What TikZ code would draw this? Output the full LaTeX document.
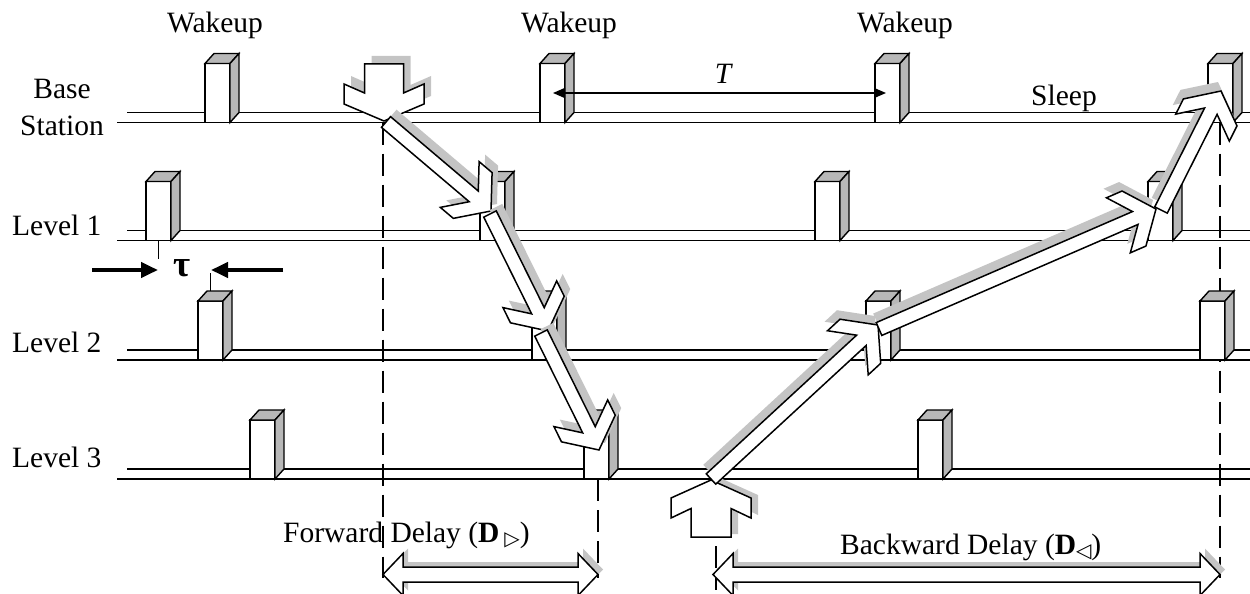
\documentclass[tikz,border=0pt]{standalone}
\usepackage{fontspec}
\setmainfont{Liberation Serif}
\newfontfamily\symfont{DejaVu Sans}
\usetikzlibrary{calc,arrows.meta}
\definecolor{boxgray}{gray}{0.72}
\definecolor{shadowgray}{gray}{0.77}
\tikzset{
  every node/.style={inner sep=0pt, font=\fontsize{29.5pt}{34pt}\selectfont},
  tline/.style={line width=1.5pt},
  boxline/.style={line width=1.4pt, line join=miter},
  arrowline/.style={draw=black, fill=white, line width=1.5pt, line join=miter},
  vdash/.style={line width=1.4pt, dash pattern=on 22pt off 9pt},
  tauarrow/.style={line width=4pt, -{Triangle[length=17pt,width=15pt]}},
  period/.style={line width=1.5pt, {Triangle[length=12pt,width=10pt]}-{Triangle[length=12pt,width=10pt]}},
}
% 3D wakeup box: #1 = front left x, #2 = bottom y
\newcommand\wbox[2]{%
  \filldraw[boxline, fill=white] (#1,#2) rectangle (#1+25,#2-59);
  \filldraw[boxline, fill=boxgray] (#1,#2-59) -- (#1+9,#2-69) -- (#1+34,#2-69) -- (#1+25,#2-59) -- cycle;
  \filldraw[boxline, fill=boxgray] (#1+25,#2-59) -- (#1+34,#2-69) -- (#1+34,#2-10) -- (#1+25,#2) -- cycle;
}
% block arrow with chevron head: #1 tail, #2 tip, #3 half shaft, #4 half head,
% #5 outer wing distance, #6 back wing distance, #7 neck distance, #8 shadow shift
\newcommand\blockarrow[8]{%
  \coordinate (ba-c1) at ($(#2)!#5!(#1)$);
  \coordinate (ba-c2) at ($(#2)!#6!(#1)$);
  \coordinate (ba-c3) at ($(#2)!#7!(#1)$);
  \coordinate (ba-o1) at ($(ba-c1)!#4!90:(#2)$);
  \coordinate (ba-o2) at ($(ba-c1)!#4!-90:(#2)$);
  \coordinate (ba-b1) at ($(ba-c2)!#4!90:(#2)$);
  \coordinate (ba-b2) at ($(ba-c2)!#4!-90:(#2)$);
  \coordinate (ba-n1) at ($(ba-c3)!#3!90:(#2)$);
  \coordinate (ba-n2) at ($(ba-c3)!#3!-90:(#2)$);
  \coordinate (ba-t1) at ($(#1)!#3!90:(#2)$);
  \coordinate (ba-t2) at ($(#1)!#3!-90:(#2)$);
  \begin{scope}[transform canvas={shift={#8}}]
    \fill[shadowgray] (#2) -- (ba-o1) -- (ba-b1) -- (ba-n1) -- (ba-t1) -- (ba-t2) -- (ba-n2) -- (ba-b2) -- (ba-o2) -- cycle;
  \end{scope}
  \draw[arrowline] (#2) -- (ba-o1) -- (ba-b1) -- (ba-n1) -- (ba-t1) -- (ba-t2) -- (ba-n2) -- (ba-b2) -- (ba-o2) -- cycle;
}
\newcommand\diagarrow[3]{\blockarrow{#1}{#2}{7pt}{30pt}{24pt}{41pt}{22.6pt}{#3}}
% double headed hollow arrow between #1 (left tip) and #2 (right tip)
\newcommand\dblarrow[3]{%
  \begin{scope}[transform canvas={shift={#3}}]
    \fill[shadowgray] (#1) -- ($(#1)+(20,-21)$) -- ($(#1)+(20,-7.5)$) -- ($(#2)+(-20,-7.5)$) -- ($(#2)+(-20,-21)$) -- (#2)
      -- ($(#2)+(-20,21)$) -- ($(#2)+(-20,7.5)$) -- ($(#1)+(20,7.5)$) -- ($(#1)+(20,21)$) -- cycle;
  \end{scope}
  \draw[arrowline] (#1) -- ($(#1)+(20,-21)$) -- ($(#1)+(20,-7.5)$) -- ($(#2)+(-20,-7.5)$) -- ($(#2)+(-20,-21)$) -- (#2)
      -- ($(#2)+(-20,21)$) -- ($(#2)+(-20,7.5)$) -- ($(#1)+(20,7.5)$) -- ($(#1)+(20,21)$) -- cycle;
}
\newcommand\tri[1]{\raisebox{-3pt}{\symfont\fontsize{20pt}{20pt}\selectfont #1}}
\begin{document}
\begin{tikzpicture}[x=1pt,y=-1pt]
\useasboundingbox (0,0) rectangle (1250,594);

% timelines (double lines)
\foreach \y in {122.5,240.5,360,479} {
  \draw[tline] (117,\y) -- (1250,\y);
  \draw[tline] (127,\y-10) -- (1250,\y-10);
}

% tau markers
\coordinate (tk1a) at (158.5,240.5);
\coordinate (tk1b) at (158.5,259);
\coordinate (tk2a) at (210.5,273);
\coordinate (tk2b) at (210.5,300);
\draw[line width=1.4pt] (tk1a) -- (tk1b);
\draw[line width=1.4pt] (tk2a) -- (tk2b);
\coordinate (taL0) at (92,270);
\coordinate (taL1) at (158,270);
\coordinate (taR0) at (283,270);
\coordinate (taR1) at (211,270);
\draw[tauarrow] (taL0) -- (taL1);
\draw[tauarrow] (taR0) -- (taR1);
\node[font=\fontsize{37pt}{40pt}\selectfont\bfseries] (tau) at (182,268) {τ};

% dashed guide lines
\coordinate (d1a) at (383,122.5);  \coordinate (d1b) at (383,578);
\coordinate (d2a) at (598,479);    \coordinate (d2b) at (598,578);
\coordinate (d3a) at (1220,122.5); \coordinate (d3b) at (1220,578);
\coordinate (d4a) at (716,546);    \coordinate (d4b) at (716,590);
\draw[vdash] (d1a) -- (d1b);
\draw[vdash] (d2a) -- (d2b);
\draw[vdash] (d3a) -- (d3b);
\draw[vdash] (d4a) -- (d4b);

% wakeup boxes
\foreach \x in {205,540,875,1208} {\wbox{\x}{122.5}}
\foreach \x in {146,480,815,1148} {\wbox{\x}{240.5}}
\foreach \x in {198,532,866,1200} {\wbox{\x}{360}}
\foreach \x in {250,584,918} {\wbox{\x}{479}}

% period T
\coordinate (Tl) at (553,93);
\coordinate (Tr) at (886,93);
\draw[period] (Tl) -- (Tr);
\node[anchor=base, font=\fontsize{29.5pt}{34pt}\selectfont\itshape] (Tlab) at (723,83) {T};

% labels
\node[anchor=base] (wk1) at (215,33) {Wakeup};
\node[anchor=base] (wk2) at (569,33) {Wakeup};
\node[anchor=base] (wk3) at (905,33) {Wakeup};
\node[anchor=base] (bs1) at (62,98) {Base};
\node[anchor=base] (bs2) at (62,135) {Station};
\node[anchor=base west] (lv1) at (12,235) {Level 1};
\node[anchor=base west] (lv2) at (12,352) {Level 2};
\node[anchor=base west] (lv3) at (12,467) {Level 3};
\node[anchor=base] (sleep) at (1064,105) {Sleep};

% forward path
\coordinate (dnT) at (384,64);   \coordinate (dnH) at (384,121);
\coordinate (f1a) at (386,122);  \coordinate (f1b) at (491,211);
\coordinate (f2a) at (490,214);  \coordinate (f2b) at (548,331);
\coordinate (f3a) at (541,333);  \coordinate (f3b) at (599,450);
\blockarrow{dnT}{dnH}{19.5pt}{40pt}{17pt}{37pt}{28pt}{(7pt,8pt)}
\diagarrow{f1a}{f1b}{(6pt,7pt)}
\diagarrow{f2a}{f2b}{(6pt,7pt)}
\diagarrow{f3a}{f3b}{(6pt,7pt)}

% backward path
\coordinate (upT) at (711,537);  \coordinate (upH) at (711,480);
\coordinate (b1a) at (711,479);  \coordinate (b1b) at (878,325);
\coordinate (b2a) at (879,329);  \coordinate (b2b) at (1156,209);
\coordinate (b3a) at (1161,210); \coordinate (b3b) at (1221,91);
\blockarrow{upT}{upH}{20pt}{40pt}{18pt}{38pt}{28.5pt}{(7pt,3pt)}
\diagarrow{b1a}{b1b}{(-3pt,9pt)}
\diagarrow{b2a}{b2b}{(-3pt,9pt)}
\diagarrow{b3a}{b3b}{(-3pt,9pt)}

% delay arrows
\coordinate (fdL) at (383,574.5); \coordinate (fdR) at (598,574.5);
\coordinate (bdL) at (713,574.5); \coordinate (bdR) at (1220,574.5);
\dblarrow{fdL}{fdR}{(5pt,5pt)}
\dblarrow{bdL}{bdR}{(5pt,5pt)}

\node[anchor=base west] (fwd) at (283,542) {Forward Delay (\textbf{D}\,\tri{▷})};
\node[anchor=base west] (bwd) at (840,554) {Backward Delay (\textbf{D}\tri{◁})};
\end{tikzpicture}
\end{document}
